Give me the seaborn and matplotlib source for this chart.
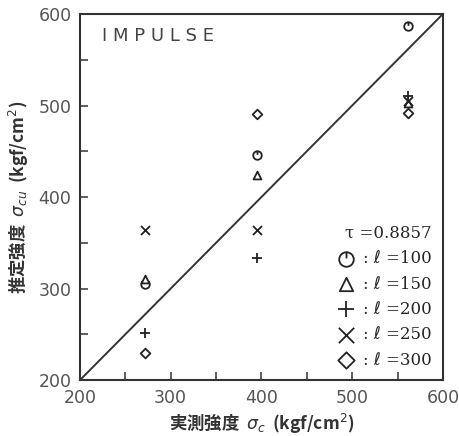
import matplotlib
matplotlib.use("Agg")
import matplotlib.pyplot as plt
from matplotlib.path import Path
import seaborn as sns
import pandas as pd

# ---- data ----
measured = [272, 395, 561]                 # 実測強度 σc
est_l100 = [305, 446, 587]
est_l150 = [310, 424, 503]
est_l200 = [252, 333, 510]
est_l250 = [364, 364, 505]
est_l300 = [230, 491, 492]
lengths = [100, 150, 200, 250, 300]
ref_line = [200, 600]
x_ticks = [200, 300, 400, 500, 600]
y_ticks = [200, 300, 400, 500, 600]
corr_text = "τ =0.8857"
title_text = "I M P U L S E"

sns.set_theme(style="white")
plt.rcParams['font.family'] = ['DejaVu Sans', 'Noto Sans CJK JP']

fig = plt.figure(figsize=(4.59, 4.36), dpi=100)
ax = fig.add_axes([0.174, 0.128, 0.791, 0.840])

# custom "clock" circle marker: circle with a stroke from top
clock = Path.make_compound_path(
    Path.unit_circle(),
    Path([(0, 1), (0, 0.15)], [Path.MOVETO, Path.LINETO]),
)

series = [est_l100, est_l150, est_l200, est_l250, est_l300]
markers = [clock, '^', '+', 'x', 'D']
sizes = [38, 32, 50, 42, 24]

ax.axline((ref_line[0], ref_line[0]), (ref_line[1], ref_line[1]),
          color='#333333', lw=1.4, zorder=1)

for l, ys, m, s in zip(lengths, series, markers, sizes):
    df = pd.DataFrame({'x': measured, 'y': ys})
    if m in ('+', 'x'):
        kw = dict(color='#222222', linewidth=1.3)
    else:
        kw = dict(facecolor='white', edgecolor='#222222', linewidth=1.3)
    sns.scatterplot(data=df, x='x', y='y', marker=m, s=s, ax=ax,
                    label=f": ℓ ={l}", zorder=3, **kw)

ax.set_xlim(200, 600)
ax.set_ylim(200, 600)
ax.set_xticks(x_ticks)
ax.set_yticks(y_ticks)
ax.set_xticks(range(250, 600, 50), minor=True)
ax.set_yticks(range(250, 600, 50), minor=True)
ax.tick_params(axis='both', which='both', direction='in', length=6,
               width=1.1, color='#333333', top=False, right=False,
               bottom=True, left=True)
ax.tick_params(axis='both', which='major', labelsize=12.5,
               labelcolor='#555555', pad=6)
for sp in ax.spines.values():
    sp.set_color('#333333')
    sp.set_linewidth(1.5)

ax.set_xlabel("実測強度  $\\sigma_c$  (kgf/cm$^2$)", fontsize=12.5,
              fontweight='bold', color='#333333', labelpad=4,
              family=['Noto Sans CJK JP', 'DejaVu Sans'])
ax.set_ylabel("推定強度  $\\sigma_{cu}$  (kgf/cm$^2$)", fontsize=12.5,
              fontweight='bold', color='#333333', labelpad=5,
              family=['Noto Sans CJK JP', 'DejaVu Sans'])

ax.text(0.06, 0.965, title_text, transform=ax.transAxes, fontsize=13,
        va='top', ha='left', color='#444444')

h, lab = ax.get_legend_handles_labels()
leg = ax.legend(h, lab, loc='lower right', frameon=False, title=corr_text,
                markerscale=1.7,
                handlelength=1.0, handletextpad=0.5, labelspacing=0.5,
                borderaxespad=0.3,
                prop={'family': ['DejaVu Serif', 'DejaVu Sans'], 'size': 12})
leg.get_title().set_family(['DejaVu Serif', 'DejaVu Sans'])
leg.get_title().set_fontsize(12)
leg._legend_box.align = 'right'

fig.savefig("out.png", dpi=100)
